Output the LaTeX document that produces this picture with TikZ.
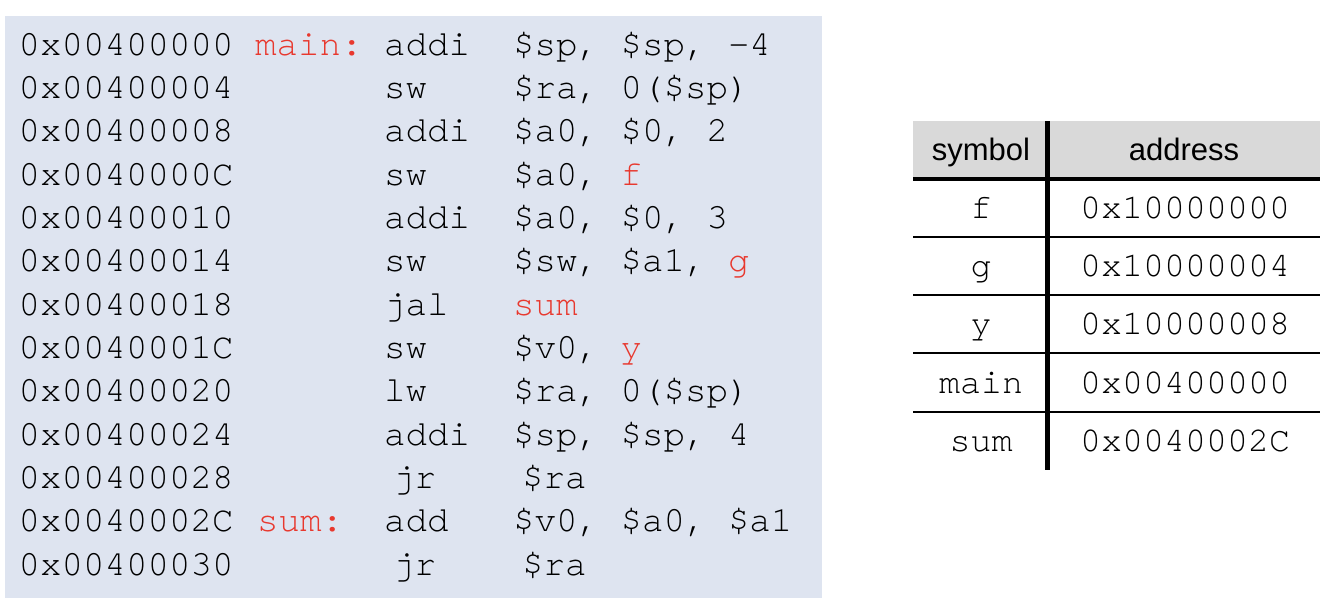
\documentclass[tikz,border=0pt]{standalone}
\usepackage{fontspec}
\setmainfont{Liberation Sans}
\newfontfamily\codefont{TeX Gyre Cursor}
\definecolor{bgblue}{RGB}{222,228,240}
\definecolor{lblred}{RGB}{232,56,46}
\definecolor{hdrgray}{RGB}{217,217,217}
\newcommand{\R}[1]{\textcolor{lblred}{#1}}
\begin{document}
\begin{tikzpicture}[x=1pt,y=-1pt,
  code/.style={anchor=base west, inner sep=0pt, font=\codefont\fontsize{35.8}{40}\selectfont},
  lbl/.style={code, text=lblred},
  cell/.style={anchor=base, inner sep=0pt, font=\codefont\fontsize{35}{40}\selectfont},
  hdr/.style={anchor=base, inner sep=0pt, font=\fontsize{31}{36}\selectfont},
  thinrule/.style={line width=2pt},
  thickrule/.style={line width=4pt}]
\useasboundingbox (0,0) rectangle (1336,606);
\fill[bgblue] (5,16) rectangle (822,598);

% code listing
\node[code] (a1) at (18.5,55) {0x00400000};
\node[lbl]  (l1) at (255,55) {main:};
\node[code] (i1) at (384,55) {addi};
\node[code] (o1) at (513,55) {\$sp, \$sp, -4};

\node[code] (a2) at (18.5,98.3) {0x00400004};
\node[code] (i2) at (384,98.3) {sw};
\node[code] (o2) at (513,98.3) {\$ra, 0(\$sp)};

\node[code] (a3) at (18.5,141.7) {0x00400008};
\node[code] (i3) at (384,141.7) {addi};
\node[code] (o3) at (513,141.7) {\$a0, \$0, 2};

\node[code] (a4) at (18.5,185) {0x0040000C};
\node[code] (i4) at (384,185) {sw};
\node[code] (o4) at (513,185) {\$a0, \R{f}};

\node[code] (a5) at (18.5,228.3) {0x00400010};
\node[code] (i5) at (384,228.3) {addi};
\node[code] (o5) at (513,228.3) {\$a0, \$0, 3};

\node[code] (a6) at (18.5,271.7) {0x00400014};
\node[code] (i6) at (384,271.7) {sw};
\node[code] (o6) at (513,271.7) {\$sw, \$a1, \R{g}};

\node[code] (a7) at (18.5,315) {0x00400018};
\node[code] (i7) at (384,315) {jal};
\node[lbl]  (o7) at (513,315) {sum};

\node[code] (a8) at (18.5,358.3) {0x0040001C};
\node[code] (i8) at (384,358.3) {sw};
\node[code] (o8) at (513,358.3) {\$v0, \R{y}};

\node[code] (a9) at (18.5,401.7) {0x00400020};
\node[code] (i9) at (384,401.7) {lw};
\node[code] (o9) at (513,401.7) {\$ra, 0(\$sp)};

\node[code] (a10) at (18.5,445) {0x00400024};
\node[code] (i10) at (384,445) {addi};
\node[code] (o10) at (513,445) {\$sp, \$sp, 4};

\node[code] (a11) at (18.5,488.3) {0x00400028};
\node[code] (i11) at (393,488.3) {jr};
\node[code] (o11) at (522,488.3) {\$ra};

\node[code] (a12) at (18.5,531.7) {0x0040002C};
\node[lbl]  (l12) at (257,531.7) {sum:};
\node[code] (i12) at (384,531.7) {add};
\node[code] (o12) at (513,531.7) {\$v0, \$a0, \$a1};

\node[code] (a13) at (18.5,575) {0x00400030};
\node[code] (i13) at (393,575) {jr};
\node[code] (o13) at (522,575) {\$ra};

% symbol table
\fill[hdrgray] (913,121) rectangle (1320,179);
\draw[thinrule] (913,237) -- (1320,237);
\draw[thinrule] (913,295) -- (1320,295);
\draw[thinrule] (913,353) -- (1320,353);
\draw[thinrule] (913,412) -- (1320,412);
\draw[thickrule] (913,179) -- (1320,179);
\draw[line width=4.5pt] (1047.5,121) -- (1047.5,470);

\node[hdr] (hs) at (981,160) {symbol};
\node[hdr] (ha) at (1184,160) {address};

\node[cell] (s1) at (981,218.5) {f};
\node[cell] (v1) at (1185,218.5) {0x10000000};
\node[cell] (s2) at (981,276.5) {g};
\node[cell] (v2) at (1185,276.5) {0x10000004};
\node[cell] (s3) at (981,334.5) {y};
\node[cell] (v3) at (1185,334.5) {0x10000008};
\node[cell] (s4) at (981,393.5) {main};
\node[cell] (v4) at (1185,393.5) {0x00400000};
\node[cell] (s5) at (981,451.5) {sum};
\node[cell] (v5) at (1185,451.5) {0x0040002C};
\end{tikzpicture}
\end{document}
